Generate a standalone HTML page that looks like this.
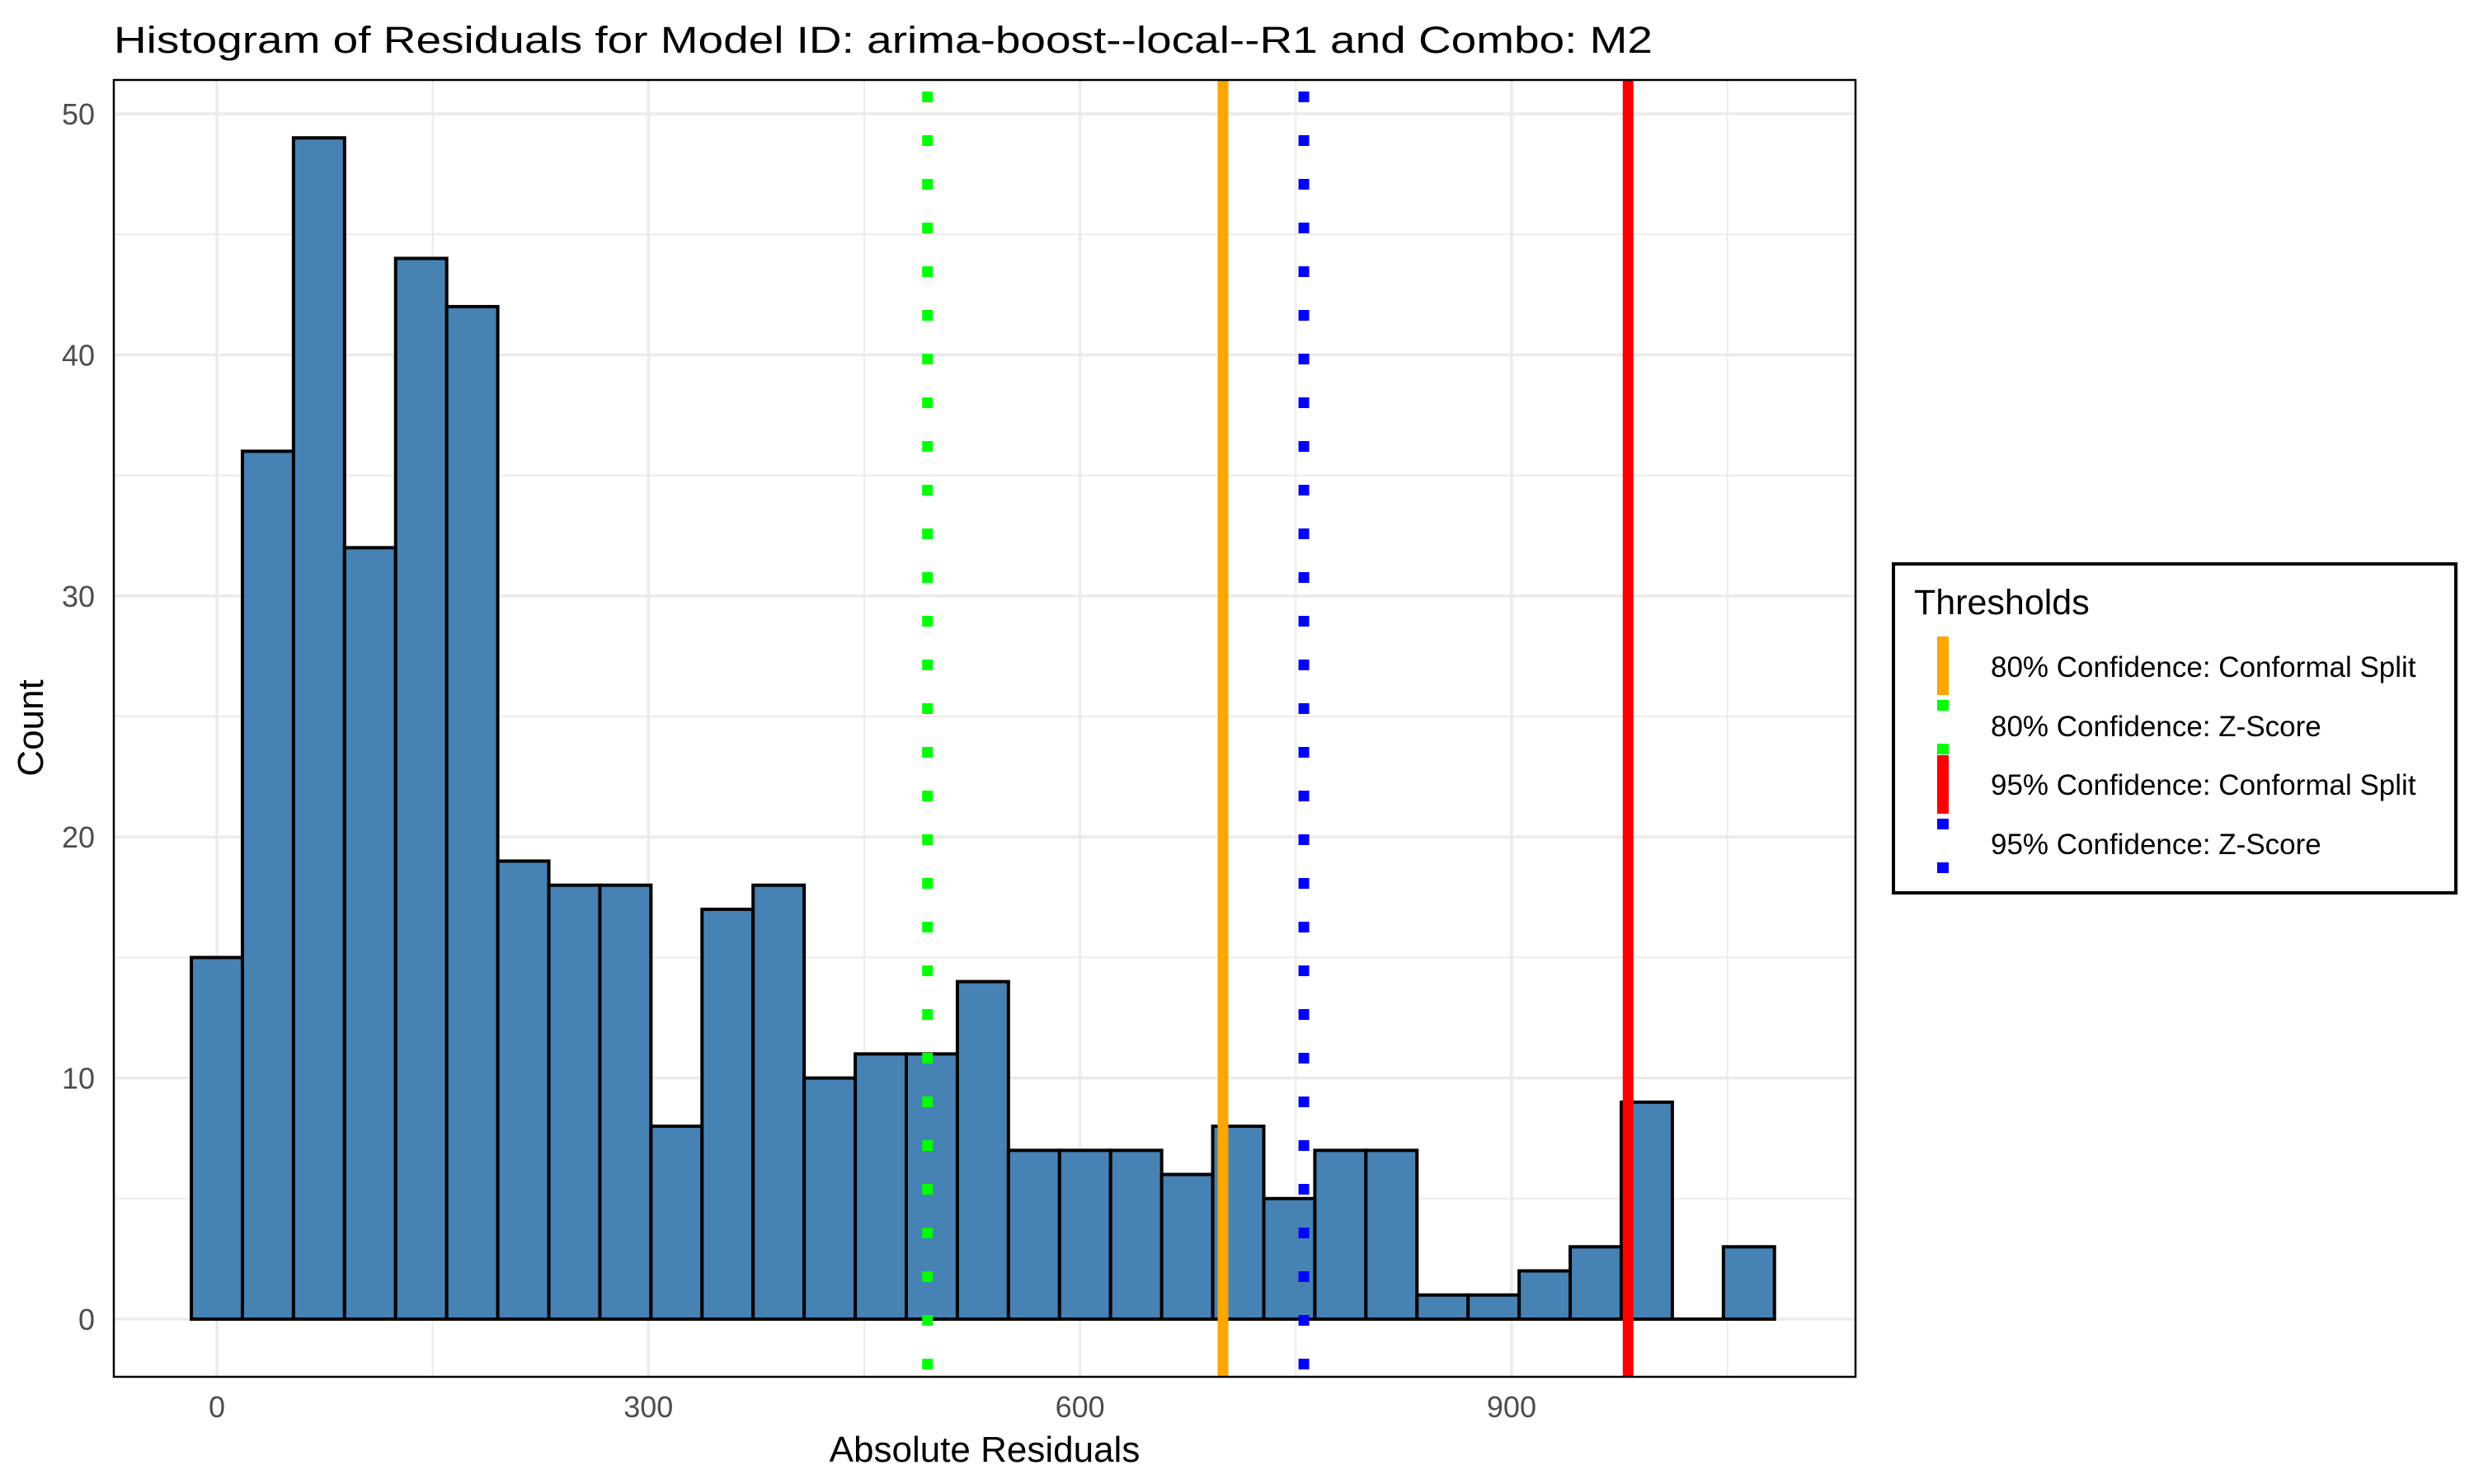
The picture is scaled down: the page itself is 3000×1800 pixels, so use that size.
<!DOCTYPE html>
<html><head><meta charset="utf-8"><style>
html,body{margin:0;padding:0;background:#fff}
svg{display:block;font-family:"Liberation Sans",Arial,sans-serif}
</style></head><body>
<svg id="chart" width="3000" height="1800" viewBox="0 0 3000 1800" xmlns="http://www.w3.org/2000/svg">
<rect x="0" y="0" width="3000" height="1800" fill="#fff"/>
<text x="138" y="64" font-size="45" fill="#000" textLength="1866" lengthAdjust="spacingAndGlyphs">Histogram of Residuals for Model ID: arima-boost--local--R1 and Combo: M2</text>
<g id="grid"></g>
<g id="bars"></g>
<g id="vlines"></g>
<rect x="138" y="97" width="2112" height="1573" fill="none" stroke="#000" stroke-width="2.5"/>
<g id="axes"></g>
<text x="1194" y="1773" font-size="44" text-anchor="middle" fill="#000">Absolute Residuals</text>
<text transform="translate(52,883) rotate(-90)" font-size="44" text-anchor="middle" fill="#000">Count</text>
<g>
<rect x="2296" y="684" width="682" height="399" fill="#fff" stroke="#000" stroke-width="4"/>
<text x="2321" y="745" font-size="43" fill="#000">Thresholds</text>
<g id="legend-keys"></g>
</g>
</svg>
<script>
const counts = [15,36,49,32,44,42,19,18,18,8,17,18,10,11,11,14,7,7,7,6,8,5,7,7,1,1,2,3,9,0,3];
const binWidth = 35.5;
const firstCenter = 0;
const yTicks = [0,10,20,30,40,50];
const yMinor = [5,15,25,35,45];
const xTicks = [0,300,600,900];
const xMinor = [150,450,750,1050];
const thresholdLabels = ["80% Confidence: Conformal Split","80% Confidence: Z-Score","95% Confidence: Conformal Split","95% Confidence: Z-Score"];
const thresholdValues = [699.4,494,981,755.6];
const thresholdColors = ["#FFA500","#00FF00","#FF0000","#0000FF"];
const thresholdDotted = [false,true,false,true];

const NS="http://www.w3.org/2000/svg";
const X = v => 263 + v*1.7444;
const Y = v => 1600 - v*29.24;
const P = {l:138,r:2250,t:97,b:1670};
function mk(tag, attrs, parent){const e=document.createElementNS(NS,tag);for(const k in attrs)e.setAttribute(k,attrs[k]);parent.appendChild(e);return e;}

const grid=document.getElementById('grid');
yMinor.forEach(v=>{const e=mk('line',{x1:P.l,x2:P.r,y1:Y(v),y2:Y(v),stroke:'#ebebeb','stroke-width':2},grid);

});
xMinor.forEach(v=>{const e=mk('line',{x1:X(v),x2:X(v),y1:P.t,y2:P.b,stroke:'#ebebeb','stroke-width':2},grid);

});
yTicks.forEach(v=>{const e=mk('line',{x1:P.l,x2:P.r,y1:Y(v),y2:Y(v),stroke:'#ebebeb','stroke-width':3.5},grid);

});
xTicks.forEach(v=>{const e=mk('line',{x1:X(v),x2:X(v),y1:P.t,y2:P.b,stroke:'#ebebeb','stroke-width':3.5},grid);

});

const bars=document.getElementById('bars');
counts.forEach((c,i)=>{
  const c0=firstCenter+i*binWidth;
  const x0=X(c0-binWidth/2), x1=X(c0+binWidth/2);
  let e;
  if(c>0){
    e=mk('rect',{x:x0,y:Y(c),width:x1-x0,height:Y(0)-Y(c),fill:'#4682B4',stroke:'#000','stroke-width':4},bars);
  } else {
    e=mk('line',{x1:x0,x2:x1,y1:Y(0),y2:Y(0),stroke:'#000','stroke-width':4},bars);
  }
  
  
});

const vl=document.getElementById('vlines');
thresholdValues.forEach((v,i)=>{
  const a={x1:X(v),x2:X(v),y1:P.t,y2:P.b,stroke:thresholdColors[i],'stroke-width':13};
  if(thresholdDotted[i]){a['stroke-dasharray']='13 40';a['stroke-dashoffset']='-14';}
  const e=mk('line',a,vl);
  
  
});

const ax=document.getElementById('axes');
yTicks.forEach(v=>{const e=mk('text',{x:115,y:Y(v)+13,'font-size':36,'text-anchor':'end',fill:'#4d4d4d'},ax);e.textContent=v;

});
xTicks.forEach(v=>{const e=mk('text',{x:X(v),y:1719,'font-size':36,'text-anchor':'middle',fill:'#4d4d4d'},ax);e.textContent=v;

});

const lk=document.getElementById('legend-keys');
const rowTop=[772,844,916,988], baselines=[821,893,964,1036];
thresholdLabels.forEach((lab,i)=>{
  const a={x1:2356,x2:2356,y1:rowTop[i],y2:rowTop[i]+71,stroke:thresholdColors[i],'stroke-width':14};
  if(thresholdDotted[i]){a.y1=rowTop[i]+5;a.y2=rowTop[i]+72;a['stroke-dasharray']='13 40';}
  const k=mk('line',a,lk);
  
  
  const t=mk('text',{x:2414,y:baselines[i],'font-size':35,fill:'#000'},lk);t.textContent=lab;
  
  
});
</script>
</body></html>
